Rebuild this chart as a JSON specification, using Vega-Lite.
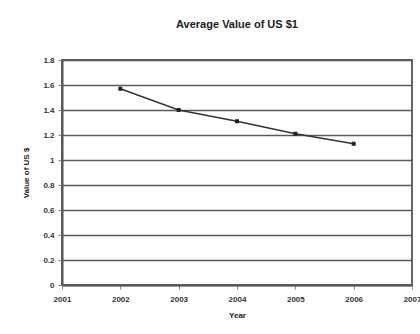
{
  "$schema": "https://vega.github.io/schema/vega-lite/v6.json",
  "autosize": "none",
  "width": 350,
  "height": 225,
  "padding": {"left": 62, "top": 60, "right": 8, "bottom": 49},
  "background": "#ffffff",
  "title": {
    "text": "Average Value of US $1",
    "font": "Liberation Sans",
    "fontSize": 11,
    "fontWeight": "bold",
    "color": "#222222",
    "offset": 26,
    "anchor": "middle"
  },
  "config": {
    "view": {"stroke": "#666666", "strokeWidth": 2},
    "axis": {
      "labelFont": "Liberation Sans",
      "labelFontSize": 8,
      "labelFontWeight": "bold",
      "labelColor": "#333333",
      "labelOverlap": false,
      "titleFont": "Liberation Sans",
      "titleFontSize": 8,
      "titleFontWeight": "bold",
      "titleColor": "#222222",
      "domainColor": "#555555",
      "domainWidth": 2,
      "tickColor": "#888888"
    }
  },
  "data": {
    "values": [
      {"year": 2002, "value": 1.57},
      {"year": 2003, "value": 1.4},
      {"year": 2004, "value": 1.31},
      {"year": 2005, "value": 1.21},
      {"year": 2006, "value": 1.13}
    ]
  },
  "mark": {
    "type": "line",
    "color": "#333333",
    "strokeWidth": 1.5,
    "point": {"shape": "square", "filled": true, "color": "#222222", "size": 16}
  },
  "encoding": {
    "x": {
      "field": "year", "type": "quantitative",
      "scale": {"domain": [2001, 2007], "nice": false, "zero": false},
      "axis": {"values": [2001, 2002, 2003, 2004, 2005, 2006, 2007], "format": "d", "grid": false, "title": "Year", "titlePadding": 8, "labelPadding": 6, "tickSize": 4, "labelFlush": false}
    },
    "y": {
      "field": "value", "type": "quantitative",
      "scale": {"domain": [0, 1.8], "nice": false},
      "axis": {"values": [0, 0.2, 0.4, 0.6, 0.8, 1, 1.2, 1.4, 1.6, 1.8], "format": "~g", "grid": true, "gridColor": "#5a5a5a", "gridWidth": 1.5, "title": "Value of US $", "titlePadding": 12, "tickSize": 4, "labelPadding": 4}
    }
  }
}
